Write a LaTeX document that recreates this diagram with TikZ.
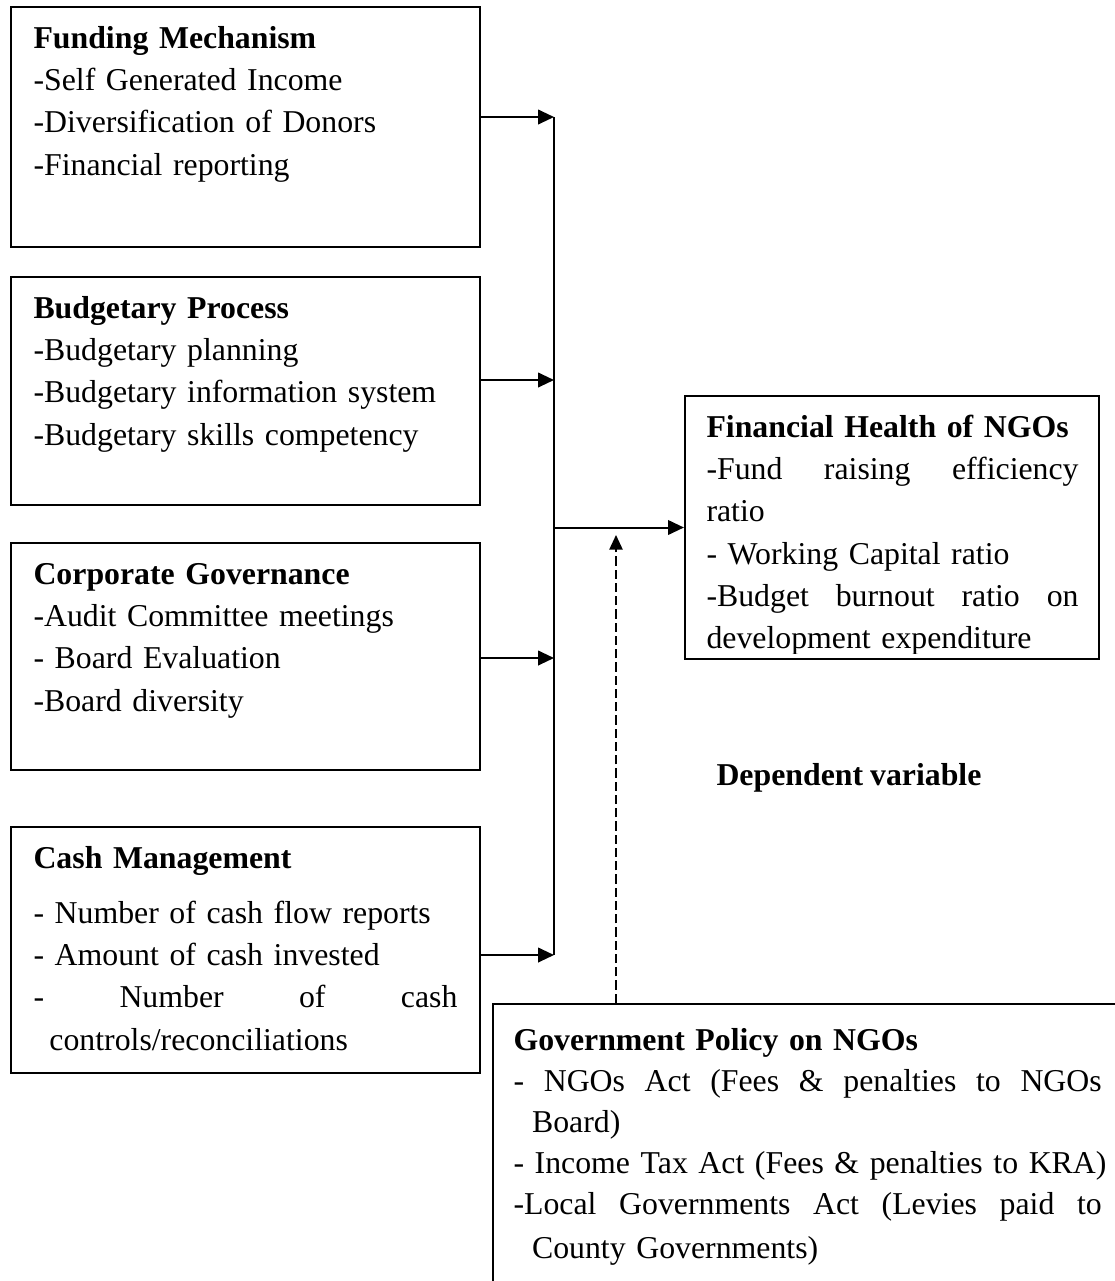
\documentclass[tikz,border=0pt]{standalone}
\usepackage{fontspec}
\setmainfont{Liberation Serif}[WordSpace=0.88]
\usetikzlibrary{arrows.meta,fit}
\newcommand{\pxu}{0.3774pt}

\begin{document}
\begin{tikzpicture}[x=\pxu,y=-\pxu,
    box/.style={draw,line width=0.8pt,inner sep=0pt},
    txt/.style={anchor=base west,align=left,inner sep=0pt,font=\fontsize{12}{16}\selectfont},
    arr/.style={line width=0.75pt,-{Triangle[length=6pt,width=5.5pt]}},
    dasharr/.style={line width=0.6pt,dash pattern=on 3.5pt off 1.5pt,-{Triangle[length=5.5pt,width=5pt]}}]
	\useasboundingbox (0,0) rectangle (1115,1281);

	% independent variables
	\node[box,fit={(11,7) (480,247)}] (fund) {};
	\node[box,fit={(11,277) (480,505)}] (budg) {};
	\node[box,fit={(11,543) (480,770)}] (corp) {};
	\node[box,fit={(11,827) (480,1073)}] (cash) {};

	\node[txt,text width=160pt] (fundtxt) at (33,48) {\textbf{Funding Mechanism}\\-Self Generated Income\\-Diversification of Donors\\-Financial reporting};
	\node[txt,text width=160pt] (budgtxt) at (33,318) {\textbf{Budgetary Process}\\-Budgetary planning\\-Budgetary information system\\-Budgetary skills competency};
	\node[txt,text width=160pt] (corptxt) at (33,584) {\textbf{Corporate Governance}\\-Audit Committee meetings\\- Board Evaluation\\-Board diversity};
	\node[txt,text width=160pt] (cashtxt) at (33,868) {\textbf{Cash Management}\\[4.8pt]- Number of cash flow reports\\- Amount of cash invested\\-\hfill Number\hfill of\hfill cash\\\hspace*{6pt}controls/reconciliations};

	% dependent variable
	\node[box,fit={(685,396) (1099,659)}] (hlth) {};
	\begin{scope}
		\clip ([yshift=2.3pt]hlth.south west) rectangle (hlth.north east);
		\node[txt,text width=140.4pt] (hlthtxt) at (706,437) {\textbf{Financial Health of NGOs}\\-Fund\hfill raising\hfill efficiency\\ratio\\- Working Capital ratio\\-Budget\hfill burnout\hfill ratio\hfill on\\development expenditure};
	\end{scope}
	\node[txt,font=\fontsize{12}{16}\selectfont\bfseries] (dep) at (716,785) {Dependent variable};

	% moderating variable
	\node[box,fit={(493,1004) (1130,1300)}] (gov) {};
	\node[txt,text width=222pt,font=\fontsize{12}{15.5}\selectfont] (govtxt) at (513,1050) {\textbf{Government Policy on NGOs}\\-\hfill NGOs\hfill Act\hfill (Fees\hfill \&\hfill penalties\hfill to\hfill NGOs\\\hspace*{7pt}Board)\\\mbox{- Income Tax Act (Fees \& penalties to KRA)}\\-Local\hfill Governments\hfill Act\hfill (Levies\hfill paid\hfill to\\[1pt]\hspace*{7pt}County Governments)};

	\foreach \n/\y in {fund/117,budg/380,corp/658,cash/955}{
		\coordinate (\n-in) at (554,\y);
		\draw[arr] (\n.east |- \n-in) -- (\n-in);}
	\draw[line width=0.75pt] (fund-in) -- (cash-in);
	\coordinate (join) at (fund-in |- hlth.west);
	\draw[arr] (join) -- (hlth.west);

	\coordinate (gov-tip) at (616,535);
	\draw[dasharr] (gov-tip |- gov.north) -- (gov-tip);
\end{tikzpicture}
\end{document}
